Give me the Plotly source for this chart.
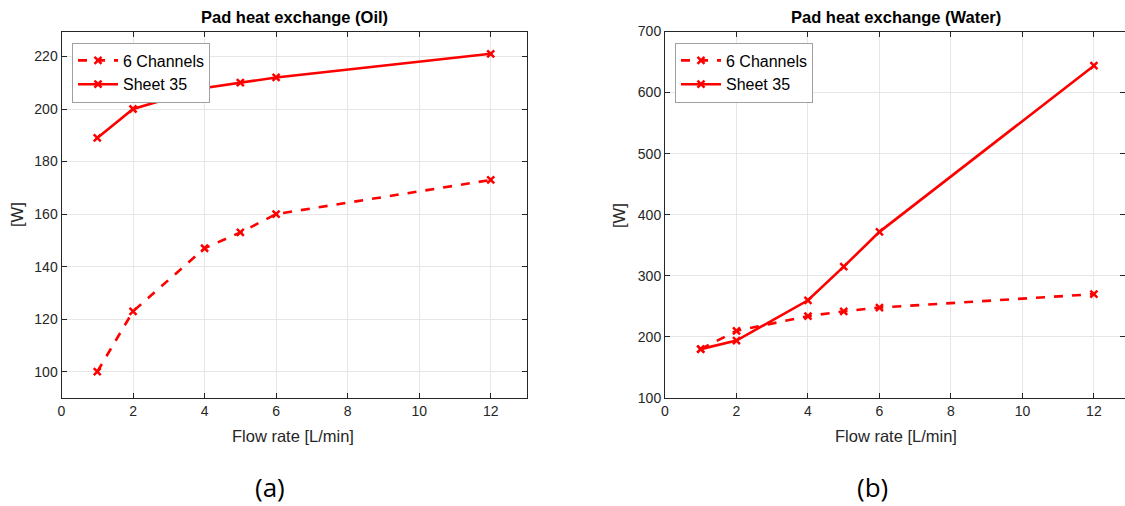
import plotly.graph_objects as go

flow = [1, 2, 4, 5, 6, 12]
oil_6ch = [100, 123, 147, 153, 160, 173]
oil_sheet35 = [189, 200, 208, 210, 212, 221]
water_6ch = [180, 210, 234, 242, 248, 270]
water_sheet35 = [180, 194, 260, 315, 372, 644]
x_ticks = [0, 2, 4, 6, 8, 10, 12]
oil_yticks = [100, 120, 140, 160, 180, 200, 220]
water_yticks = [100, 200, 300, 400, 500, 600, 700]

W, H = 1125, 506
RED = "#ff0000"
AX = "#262626"
FONT = "Liberation Sans, Arial, sans-serif"

def py(p):
    return 1 - p / H

def px(p):
    return p / W

fig = go.Figure()

def add_series(x, y, name, dash, xa, ya, legend):
    fig.add_trace(go.Scatter(
        x=x, y=y, name=name, mode="lines+markers",
        line=dict(color=RED, width=2.6, dash=dash),
        marker=dict(symbol="x-thin", size=7, color=RED, line=dict(color=RED, width=2.5)),
        xaxis=xa, yaxis=ya, legend=legend,
    ))

add_series(flow, oil_6ch, "6 Channels", "dash", "x", "y", "legend")
add_series(flow, oil_sheet35, "Sheet 35", "solid", "x", "y", "legend")
add_series(flow, water_6ch, "6 Channels", "dash", "x2", "y2", "legend2")
add_series(flow, water_sheet35, "Sheet 35", "solid", "x2", "y2", "legend2")

axis_common = dict(
    showline=True, linecolor=AX, linewidth=1, mirror="ticks",
    ticks="inside", ticklen=5, tickcolor=AX, tickwidth=1,
    showgrid=True, gridcolor="#e6e6e6", gridwidth=1, zeroline=False,
    tickfont=dict(family=FONT, size=14, color=AX),
)

ydom = [py(398), py(31.5)]
legend_common = dict(
    xanchor="left", yanchor="top",
    bgcolor="white", bordercolor="#a0a0a0", borderwidth=1,
    font=dict(family=FONT, size=16, color="black"),
    tracegroupgap=0, itemwidth=40,
)
fig.update_layout(
    width=W, height=H,
    autosize=False,
    margin=dict(l=0, r=0, t=0, b=0, pad=0, autoexpand=False),
    paper_bgcolor="white", plot_bgcolor="white",
    xaxis=dict(domain=[px(61.5), px(526.5)], range=[0, 13], tickvals=x_ticks, anchor="y", **axis_common),
    yaxis=dict(domain=ydom, range=[90, 229.5], tickvals=oil_yticks, anchor="x", **axis_common),
    xaxis2=dict(domain=[px(665), 1.0], range=[0, 12.87], tickvals=x_ticks, anchor="y2", **axis_common),
    yaxis2=dict(domain=ydom, range=[100, 700], tickvals=water_yticks, anchor="x2", **axis_common),
    legend=dict(x=px(72), y=py(42.5), **legend_common),
    legend2=dict(x=px(675), y=py(42.5), **legend_common),
    showlegend=True,
)

ann = []
def text(x, y, s, size, bold=False, angle=0, family=FONT, color=AX):
    ann.append(dict(x=px(x), y=py(y), xref="paper", yref="paper", text=("<b>%s</b>" % s) if bold else s,
                    showarrow=False, textangle=angle, xanchor="center", yanchor="middle",
                    font=dict(family=family, size=size, color=color)))

text(294.5, 17, "Pad heat exchange (Oil)", 16.5, bold=True, color="black")
text(896, 17, "Pad heat exchange (Water)", 16.5, bold=True, color="black")
text(293, 436, "Flow rate [L/min]", 16.5)
text(896, 436, "Flow rate [L/min]", 16.5)
text(17, 215, "[W]", 16.5, angle=-90)
text(619, 215, "[W]", 16.5, angle=-90)
text(270, 487, "(a)", 26, family="Open Sans, sans-serif", color="black")
text(872, 487, "(b)", 26, family="Open Sans, sans-serif", color="black")
fig.update_layout(annotations=ann)

fig.write_html("out.html")
